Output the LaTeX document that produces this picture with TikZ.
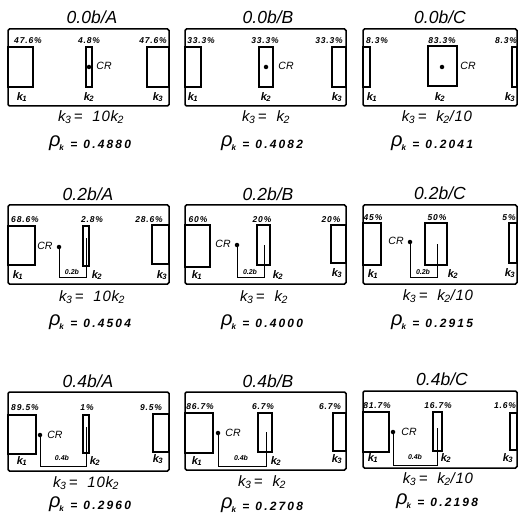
\documentclass[tikz,border=0pt]{standalone}
\usepackage{fontspec}
\setmainfont{Liberation Sans}
\newfontfamily\ttlf{Liberation Sans}
\newfontfamily\pctf[LetterSpace=10]{Liberation Sans}
\newfontfamily\numf[LetterSpace=18]{Liberation Sans}
\newfontfamily\eqf[LetterSpace=5]{Liberation Sans}
\newcommand\kk[1]{k\textsubscript{\kern-0.5pt#1}}
\newcommand\pkk{{\fontsize{20}{20}\selectfont\mdseries\raisebox{2pt}{ρ}}\textsubscript{\kern-1pt k}}
\newcommand\pkv[1]{\pkk\hspace{6pt}=\hspace{6pt}#1}
\tikzset{
  ttl/.style={font=\ttlf\itshape\fontsize{17.5}{18}\selectfont, inner sep=0},
  pct/.style={font=\pctf\bfseries\itshape\fontsize{8.5}{9}\selectfont, inner sep=0},
  kl/.style={font=\bfseries\itshape\fontsize{11}{11}\selectfont, inner sep=0},
  crl/.style={font=\itshape\fontsize{10.5}{11}\selectfont, inner sep=0},
  dimlab/.style={font=\bfseries\itshape\fontsize{7}{7}\selectfont, inner sep=0},
  eqn/.style={font=\eqf\itshape\fontsize{15}{15}\selectfont, inner sep=0},
  pkl/.style={font=\numf\bfseries\itshape\fontsize{12}{13}\selectfont, inner sep=0},
  frame/.style={line width=1.5pt, rounded corners=1.5pt},
  wall/.style={line width=1.1pt},
  dimline/.style={line width=0.8pt},
  crdot/.style={circle, fill, inner sep=0, minimum size=4.5pt}
}
\begin{document}
\begin{tikzpicture}[x=1pt,y=-1pt]
\useasboundingbox[fill=white] (0,0) rectangle (518,518);
% ---------------- Row 1 ----------------
% A1
\node[ttl] (tA1) at (92,17) {0.0b/A};
\draw[frame] (8,29) rectangle (169,106);
\draw[wall] (8,47) rectangle (33,87);
\draw[wall] (86,47) rectangle (92,87);
\draw[wall] (147,47) rectangle (169,87);
\node[pct] (pA1a) at (28,41) {47.6\%};
\node[pct] (pA1b) at (89,41) {4.8\%};
\node[pct] (pA1c) at (153,41) {47.6\%};
\node[crdot] (sA1) at (89,67) {};
\node[crl] (cA1) at (104,66) {CR};
\node[kl] (kA1a) at (22,97) {\kk{1}};
\node[kl] (kA1b) at (89,97) {\kk{2}};
\node[kl] (kA1c) at (158,97) {\kk{3}};
\node[eqn] (eA1) at (91,117) {\kk{3}\,=\ \ 10\kk{2}};
\node[pkl] (rA1) at (90,143) {\pkv{0.4880}};
% B1
\node[ttl] (tB1) at (268,17) {0.0b/B};
\draw[frame] (185,29) rectangle (346,106);
\draw[wall] (185,47) rectangle (201,87);
\draw[wall] (259,47) rectangle (273,87);
\draw[wall] (332,47) rectangle (346,87);
\node[pct] (pB1a) at (201,41) {33.3\%};
\node[pct] (pB1b) at (265,41) {33.3\%};
\node[pct] (pB1c) at (329,41) {33.3\%};
\node[crdot] (sB1) at (266,67) {};
\node[crl] (cB1) at (286,66) {CR};
\node[kl] (kB1a) at (193,97) {\kk{1}};
\node[kl] (kB1b) at (266,97) {\kk{2}};
\node[kl] (kB1c) at (337,97) {\kk{3}};
\node[eqn] (eB1) at (266,117) {\kk{3}\,=\ \ \kk{2}};
\node[pkl] (rB1) at (262,143) {\pkv{0.4082}};
% C1
\node[ttl] (tC1) at (440,17) {0.0b/C};
\draw[frame] (363,29) rectangle (517,106);
\draw[wall] (363,47) rectangle (370,87);
\draw[wall] (428,46) rectangle (457,86);
\draw[wall] (512,47) rectangle (517,87);
\node[pct] (pC1a) at (377,41) {8.3\%};
\node[pct] (pC1b) at (442,41) {83.3\%};
\node[pct] (pC1c) at (506,41) {8.3\%};
\node[crdot] (sC1) at (442,67) {};
\node[crl] (cC1) at (468,66) {CR};
\node[kl] (kC1a) at (372,97) {\kk{1}};
\node[kl] (kC1b) at (440,97) {\kk{2}};
\node[kl] (kC1c) at (510,97) {\kk{3}};
\node[eqn] (eC1) at (437,117) {\kk{3}\,=\ \ \kk{2}/10};
\node[pkl] (rC1) at (432,143) {\pkv{0.2041}};
% ---------------- Row 2 ----------------
% A2
\node[ttl] (tA2) at (88,194) {0.2b/A};
\draw[frame] (8,205) rectangle (169,284);
\draw[wall] (8,226) rectangle (35,265);
\draw[wall] (83,226) rectangle (89,266);
\draw[wall] (152,225) rectangle (169,264);
\node[pct] (pA2a) at (25,220) {68.6\%};
\node[pct] (pA2b) at (92,220) {2.8\%};
\node[pct] (pA2c) at (149,220) {28.6\%};
\node[crdot] (sA2) at (59,247) {};
\node[crl] (cA2) at (45,246) {CR};
\coordinate (qA2) at (86,238);
\draw[dimline] (sA2.center) -- ++(0,30) -| (qA2);
\node[dimlab] (dA2) at (72,272) {0.2b};
\node[kl] (kA2a) at (18,275) {\kk{1}};
\node[kl] (kA2b) at (97,275) {\kk{2}};
\node[kl] (kA2c) at (162,275) {\kk{3}};
\node[eqn] (eA2) at (92,297) {\kk{3}\,=\ \ 10\kk{2}};
\node[pkl] (rA2) at (90,322) {\pkv{0.4504}};
% B2
\node[ttl] (tB2) at (268,194) {0.2b/B};
\draw[frame] (185,205) rectangle (346,284);
\draw[wall] (185,225) rectangle (210,267);
\draw[wall] (257,225) rectangle (270,265);
\draw[wall] (331,225) rectangle (346,263);
\node[pct] (pB2a) at (198,220) {60\%};
\node[pct] (pB2b) at (262,220) {20\%};
\node[pct] (pB2c) at (331,220) {20\%};
\node[crdot] (sB2) at (237,245) {};
\node[crl] (cB2) at (223,244) {CR};
\coordinate (qB2) at (264,245);
\draw[dimline] (sB2.center) -- ++(0,32) -| (qB2);
\node[dimlab] (dB2) at (250,272) {0.2b};
\node[kl] (kB2a) at (197,275) {\kk{1}};
\node[kl] (kB2b) at (278,275) {\kk{2}};
\node[kl] (kB2c) at (337,273) {\kk{3}};
\node[eqn] (eB2) at (264,297) {\kk{3}\,=\ \ \kk{2}};
\node[pkl] (rB2) at (262,322) {\pkv{0.4000}};
% C2
\node[ttl] (tC2) at (440,193) {0.2b/C};
\draw[frame] (363,205) rectangle (517,284);
\draw[wall] (363,223) rectangle (381,265);
\draw[wall] (425,223) rectangle (447,265);
\draw[wall] (509,223) rectangle (517,263);
\node[pct] (pC2a) at (373,218) {45\%};
\node[pct] (pC2b) at (437,218) {50\%};
\node[pct] (pC2c) at (509,218) {5\%};
\node[crdot] (sC2) at (410,242) {};
\node[crl] (cC2) at (396,241) {CR};
\coordinate (qC2) at (437,244);
\draw[dimline] (sC2.center) -- ++(0,35) -| (qC2);
\node[dimlab] (dC2) at (423,272) {0.2b};
\node[kl] (kC2a) at (373,274) {\kk{1}};
\node[kl] (kC2b) at (453,274) {\kk{2}};
\node[kl] (kC2c) at (510,273) {\kk{3}};
\node[eqn] (eC2) at (438,296) {\kk{3}\,=\ \ \kk{2}/10};
\node[pkl] (rC2) at (432,322) {\pkv{0.2915}};
% ---------------- Row 3 ----------------
% A3
\node[ttl] (tA3) at (88,381) {0.4b/A};
\draw[frame] (8,392) rectangle (169,471);
\draw[wall] (8,415) rectangle (36,454);
\draw[wall] (83,415) rectangle (89,453);
\draw[wall] (153,414) rectangle (169,452);
\node[pct] (pA3a) at (25,408) {89.5\%};
\node[pct] (pA3b) at (87,408) {1\%};
\node[pct] (pA3c) at (151,408) {9.5\%};
\node[crdot] (sA3) at (40,435) {};
\node[crl] (cA3) at (55,435) {CR};
\coordinate (qA3) at (86,427);
\draw[dimline] (sA3.center) -- ++(0,31) -| (qA3);
\node[dimlab] (dA3) at (62,458) {0.4b};
\node[kl] (kA3a) at (22,461) {\kk{1}};
\node[kl] (kA3b) at (95,461) {\kk{2}};
\node[kl] (kA3c) at (158,459) {\kk{3}};
\node[eqn] (eA3) at (86,483) {\kk{3}\,=\ \ 10\kk{2}};
\node[pkl] (rA3) at (90,504) {\pkv{0.2960}};
% B3
\node[ttl] (tB3) at (268,381) {0.4b/B};
\draw[frame] (185,392) rectangle (346,470);
\draw[wall] (185,413) rectangle (213,453);
\draw[wall] (258,413) rectangle (272,452);
\draw[wall] (333,413) rectangle (346,451);
\node[pct] (pB3a) at (200,407) {86.7\%};
\node[pct] (pB3b) at (263,407) {6.7\%};
\node[pct] (pB3c) at (330,407) {6.7\%};
\node[crdot] (sB3) at (218,433) {};
\node[crl] (cB3) at (233,433) {CR};
\coordinate (qB3) at (266,432);
\draw[dimline] (sB3.center) -- ++(0,33) -| (qB3);
\node[dimlab] (dB3) at (241,458) {0.4b};
\node[kl] (kB3a) at (197,461) {\kk{1}};
\node[kl] (kB3b) at (276,461) {\kk{2}};
\node[kl] (kB3c) at (337,459) {\kk{3}};
\node[eqn] (eB3) at (262,482) {\kk{3}\,=\ \ \kk{2}};
\node[pkl] (rB3) at (262,505) {\pkv{0.2708}};
% C3
\node[ttl] (tC3) at (442,379) {0.4b/C};
\draw[frame] (363,391) rectangle (517,468);
\draw[wall] (363,412) rectangle (389,452);
\draw[wall] (433,412) rectangle (442,451);
\draw[wall] (510,413) rectangle (517,450);
\node[pct] (pC3a) at (377,406) {81.7\%};
\node[pct] (pC3b) at (438,406) {16.7\%};
\node[pct] (pC3c) at (505,406) {1.6\%};
\node[crdot] (sC3) at (393,432) {};
\node[crl] (cC3) at (409,432) {CR};
\coordinate (qC3) at (437,428);
\draw[dimline] (sC3.center) -- ++(0,33) -| (qC3);
\node[dimlab] (dC3) at (415,457) {0.4b};
\node[kl] (kC3a) at (373,458) {\kk{1}};
\node[kl] (kC3b) at (446,458) {\kk{2}};
\node[kl] (kC3c) at (508,458) {\kk{3}};
\node[eqn] (eC3) at (438,479) {\kk{3}\,=\ \ \kk{2}/10};
\node[pkl] (rC3) at (437,501) {\pkv{0.2198}};
\end{tikzpicture}
\end{document}
